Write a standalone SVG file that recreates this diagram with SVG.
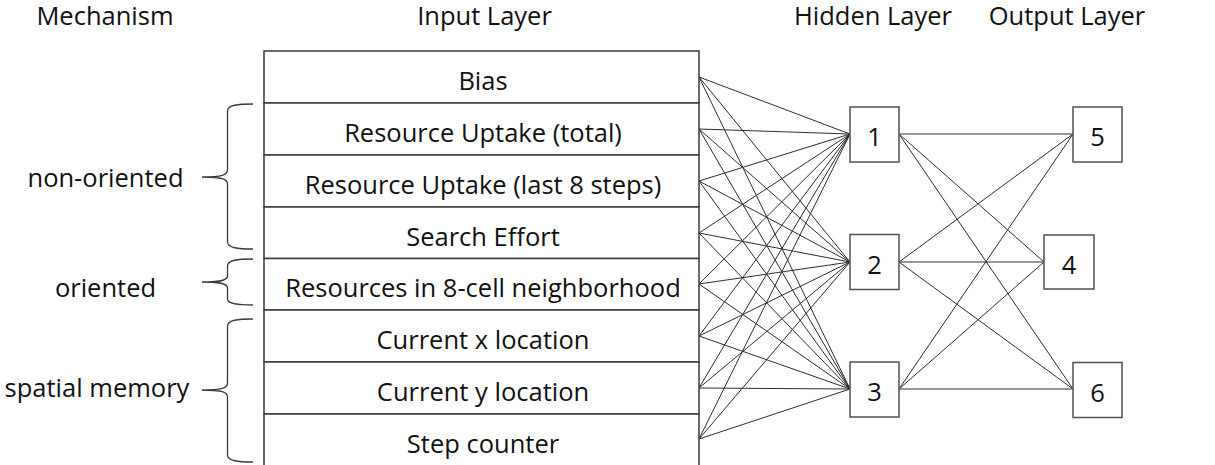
<svg xmlns="http://www.w3.org/2000/svg" width="1215" height="465" viewBox="0 0 1215 465">
  <style>
    text { font-family: "Open Sans", "Liberation Sans", sans-serif; font-size: 25.5px; fill: #111; }
    .mid { text-anchor: middle; }
    .cell { fill: #fff; stroke: #3a3a3a; stroke-width: 1.5; }
    .box { fill: #fff; stroke: #505050; stroke-width: 1.5; }
    .brace { fill: none; stroke: #3a3a3a; stroke-width: 1.3; }
    .wire { stroke: #2e2e2e; stroke-width: 1; fill: none; }
  </style>

  <!-- column headings -->
  <g id="headings">
    <text class="mid" x="105" y="25">Mechanism</text>
    <text class="mid" x="484.5" y="25">Input Layer</text>
    <text class="mid" x="873" y="25">Hidden Layer</text>
    <text class="mid" x="1067" y="25">Output Layer</text>
  </g>

  <!-- connectors: every input to every hidden unit, every hidden unit to every output -->
  <g id="connectors" class="wire">
    <path d="M699,77 L850,134 M699,77 L850,262 M699,77 L850,389"/>
    <path d="M699,129 L850,134 M699,129 L850,262 M699,129 L850,389"/>
    <path d="M699,181 L850,134 M699,181 L850,262 M699,181 L850,389"/>
    <path d="M699,233 L850,134 M699,233 L850,262 M699,233 L850,389"/>
    <path d="M699,284 L850,134 M699,284 L850,262 M699,284 L850,389"/>
    <path d="M699,336 L850,134 M699,336 L850,262 M699,336 L850,389"/>
    <path d="M699,388 L850,134 M699,388 L850,262 M699,388 L850,389"/>
    <path d="M699,439 L850,134 M699,439 L850,262 M699,439 L850,389"/>
    <path d="M899,134 L1073,134 M899,134 L1044,262 M899,134 L1073,389"/>
    <path d="M899,262 L1073,134 M899,262 L1044,262 M899,262 L1073,389"/>
    <path d="M899,389 L1073,134 M899,389 L1044,262 M899,389 L1073,389"/>
  </g>

  <!-- input layer table -->
  <g id="input-bias"><rect class="cell" x="264" y="51" width="435" height="52"/><text class="mid" x="483" y="90">Bias</text></g>
  <g id="input-uptake-total"><rect class="cell" x="264" y="103" width="435" height="52"/><text class="mid" x="483" y="142">Resource Uptake (total)</text></g>
  <g id="input-uptake-last8"><rect class="cell" x="264" y="155" width="435" height="52"/><text class="mid" x="483" y="194">Resource Uptake (last 8 steps)</text></g>
  <g id="input-search-effort"><rect class="cell" x="264" y="207" width="435" height="51.5"/><text class="mid" x="483" y="246">Search Effort</text></g>
  <g id="input-neighborhood"><rect class="cell" x="264" y="258.5" width="435" height="51.5"/><text class="mid" x="483" y="297">Resources in 8-cell neighborhood</text></g>
  <g id="input-x"><rect class="cell" x="264" y="310" width="435" height="52"/><text class="mid" x="483" y="349">Current x location</text></g>
  <g id="input-y"><rect class="cell" x="264" y="362" width="435" height="52"/><text class="mid" x="483" y="401">Current y location</text></g>
  <g id="input-step"><path class="cell" d="M264,470 V414 H699 V470"/><text class="mid" x="483" y="453">Step counter</text></g>

  <!-- hidden layer -->
  <g id="hidden-1"><rect class="box" x="850" y="107" width="49" height="55"/><text class="mid" x="874.5" y="146">1</text></g>
  <g id="hidden-2"><rect class="box" x="850" y="234.5" width="49" height="55"/><text class="mid" x="874.5" y="273.5">2</text></g>
  <g id="hidden-3"><rect class="box" x="850" y="362" width="49" height="55"/><text class="mid" x="874.5" y="401">3</text></g>

  <!-- output layer -->
  <g id="output-5"><rect class="box" x="1073" y="107" width="49" height="55"/><text class="mid" x="1097.5" y="146">5</text></g>
  <g id="output-4"><rect class="box" x="1044" y="235" width="50" height="54"/><text class="mid" x="1069" y="274">4</text></g>
  <g id="output-6"><rect class="box" x="1073" y="362.5" width="49" height="55"/><text class="mid" x="1097.5" y="401.5">6</text></g>

  <!-- mechanism groupings -->
  <g id="group-non-oriented">
    <path class="brace" d="M253,104 C238,104 227.5,105 227.5,111 L227.5,170 C227.5,175 222,177 202,177 C222,177 227.5,179 227.5,184 L227.5,242 C227.5,248 238,249 253,249"/>
    <text class="mid" x="105.5" y="187">non-oriented</text>
  </g>
  <g id="group-oriented">
    <path class="brace" d="M253,259 C238,259 227.5,260 227.5,266 L227.5,276 C227.5,280 222,282 202,282 C222,282 227.5,284 227.5,288 L227.5,299 C227.5,304 238,305 253,305"/>
    <text class="mid" x="105.5" y="297">oriented</text>
  </g>
  <g id="group-spatial-memory">
    <path class="brace" d="M253,319 C238,319 227.5,320 227.5,326 L227.5,383 C227.5,388 222,390 202,390 C222,390 227.5,392 227.5,397 L227.5,455 C227.5,461 238,462 253,462"/>
    <text class="mid" x="97" y="397">spatial memory</text>
  </g>
</svg>
